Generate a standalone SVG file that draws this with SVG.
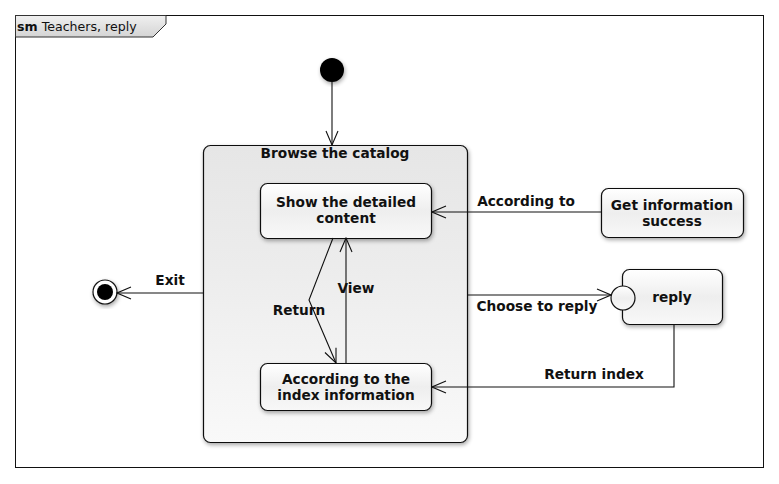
<svg xmlns="http://www.w3.org/2000/svg" width="779" height="484" viewBox="0 0 779 484">
<style>
text{font-family:"DejaVu Sans",Verdana,sans-serif;font-size:13.7px;font-weight:bold;fill:#111;text-anchor:middle}
.st{fill:url(#g);stroke:#111;stroke-width:1.2;filter:url(#sh)}
.ln{fill:none;stroke:#111;stroke-width:1.1}
</style>
<defs>
<linearGradient id="g" x1="0" y1="0" x2="0" y2="1"><stop offset="0" stop-color="#ffffff"/><stop offset="0.5" stop-color="#eeeeee"/><stop offset="1" stop-color="#f8f8f8"/></linearGradient>
<linearGradient id="gc" x1="0" y1="0" x2="0" y2="1"><stop offset="0" stop-color="#e6e6e6"/><stop offset="0.4" stop-color="#ececec"/><stop offset="1" stop-color="#f9f9f9"/></linearGradient>
<linearGradient id="gt" x1="0" y1="0" x2="0" y2="1"><stop offset="0" stop-color="#f0f0f0"/><stop offset="1" stop-color="#d4d4d4"/></linearGradient>
<filter id="sh" x="-20%" y="-20%" width="140%" height="140%"><feGaussianBlur in="SourceAlpha" stdDeviation="2"/><feOffset dx="1" dy="2"/><feComponentTransfer><feFuncA type="linear" slope="0.35"/></feComponentTransfer><feMerge><feMergeNode/><feMergeNode in="SourceGraphic"/></feMerge></filter>
<marker id="a" markerWidth="16" markerHeight="14" refX="15" refY="7" orient="auto" markerUnits="userSpaceOnUse"><path d="M1,1 L15,7 L1,13" fill="none" stroke="#111" stroke-width="1.1"/></marker>
</defs>
<rect x="15.5" y="15.5" width="748" height="452" fill="#fff" stroke="#111" stroke-width="1"/>
<path d="M15.5,15.5 H166 V24 L153,37 H15.5 Z" fill="url(#gt)" stroke="#333" stroke-width="1"/>
<text x="17" y="31" style="text-anchor:start;font-weight:normal;font-size:12.6px"><tspan font-weight="bold">sm</tspan> Teachers, reply</text>

<g id="initial"><circle cx="332" cy="70" r="12" fill="#000" filter="url(#sh)"/></g>
<g id="browse"><rect x="203.5" y="145.5" width="264" height="297" rx="7" fill="url(#gc)" stroke="#111" stroke-width="1.2" filter="url(#sh)"/><text x="335" y="158">Browse the catalog</text></g>
<g id="show"><rect class="st" x="260.5" y="183.5" width="171" height="55" rx="7"/><text x="346" y="207">Show the detailed</text><text x="346" y="223">content</text></g>
<g id="index"><rect class="st" x="260.5" y="363.5" width="171" height="47" rx="7"/><text x="346" y="384">According to the</text><text x="346" y="400">index information</text></g>
<g id="getinfo"><rect class="st" x="601.5" y="188.5" width="142" height="49" rx="7"/><text x="672" y="210">Get information</text><text x="672" y="226">success</text></g>
<g id="reply"><rect class="st" x="622.5" y="269.5" width="100" height="55" rx="7"/><circle cx="623" cy="298" r="12" fill="url(#g)" stroke="#111" stroke-width="1.2"/><text x="672" y="302">reply</text></g>
<g id="final"><circle cx="105" cy="292" r="12" fill="#fff" stroke="#111" stroke-width="1.2" filter="url(#sh)"/><circle cx="105" cy="292" r="8" fill="#000"/></g>

<g id="connectors">
<path class="ln" d="M332,82 V145" marker-end="url(#a)"/>
<path class="ln" d="M203,293 H117" marker-end="url(#a)"/>
<path class="ln" d="M601,212 H432" marker-end="url(#a)"/>
<path class="ln" d="M468,295 H611" marker-end="url(#a)"/>
<path class="ln" d="M674,324 V387 H432" marker-end="url(#a)"/>
<path class="ln" d="M333,238 L309,300 L336,363" marker-end="url(#a)"/>
<path class="ln" d="M346,363 V238" marker-end="url(#a)"/>
</g>
<text x="170" y="285">Exit</text>
<text x="526" y="206">According to</text>
<text x="537" y="311">Choose to reply</text>
<text x="594" y="379">Return index</text>
<text x="299" y="315">Return</text>
<text x="356" y="293">View</text>
</svg>
